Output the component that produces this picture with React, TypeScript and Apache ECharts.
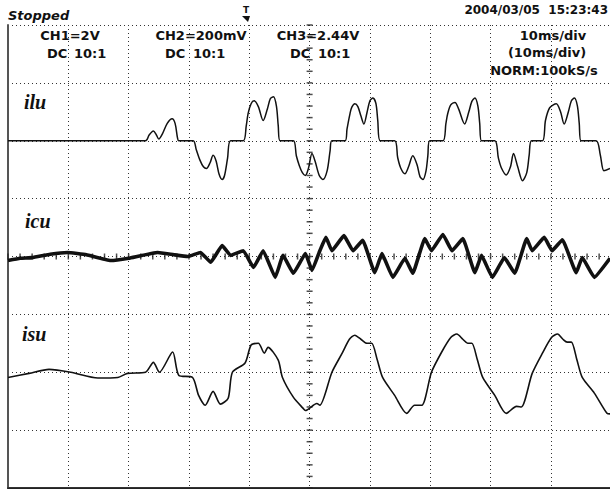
import React, { useEffect, useRef } from "react";
import * as echarts from "echarts";

// time in ms, level in divisions relative to each channel's zero line
const iluData: number[][] = [
  [0, 0], [22.8, 0], [23.4, 0.1], [24.1, 0.17], [24.6, 0.1], [25.0, 0.03], [25.6, 0.12], [26.4, 0.3], [27.2, 0.38], [27.7, 0.3], [28.1, 0.05], [28.3, 0],
  [30.7, 0], [31.2, -0.15], [31.8, -0.33], [32.4, -0.45], [32.9, -0.48], [33.5, -0.38], [34.0, -0.25], [34.5, -0.35], [35.0, -0.58], [35.5, -0.67], [35.9, -0.6], [36.4, -0.3], [36.9, 0],
  [39.0, 0], [39.5, 0.26], [39.8, 0.47], [40.3, 0.64], [40.8, 0.69], [41.5, 0.59], [42.3, 0.35], [43.0, 0.55], [43.5, 0.73], [44.0, 0.76], [44.5, 0.6], [44.8, 0.26], [45.1, 0],
  [47.3, 0], [47.8, -0.26], [48.3, -0.43], [48.8, -0.55], [49.3, -0.6], [49.8, -0.48], [50.4, -0.22], [50.9, -0.35], [51.6, -0.6], [52.2, -0.67], [52.9, -0.52], [53.4, -0.17], [53.7, 0],
  [55.9, 0], [56.2, 0.2], [56.7, 0.47], [57.0, 0.58], [57.5, 0.64], [58.0, 0.59], [58.5, 0.43], [59.0, 0.29], [59.5, 0.48], [60.0, 0.69], [60.5, 0.74], [61.0, 0.64], [61.3, 0.35], [61.7, 0],
  [64.1, 0], [64.6, -0.29], [65.1, -0.47], [65.8, -0.57], [66.4, -0.45], [67.1, -0.26], [67.8, -0.41], [68.3, -0.62], [68.8, -0.67], [69.3, -0.52], [69.6, -0.26], [69.9, 0],
  [72.1, 0], [72.6, 0.3], [72.9, 0.47], [73.4, 0.62], [74.1, 0.66], [74.7, 0.55], [75.7, 0.29], [76.4, 0.5], [76.9, 0.68], [77.4, 0.74], [77.9, 0.6], [78.2, 0.3], [78.5, 0],
  [80.7, 0], [81.3, -0.3], [81.8, -0.47], [82.6, -0.59], [83.3, -0.45], [83.8, -0.22], [84.5, -0.45], [85.3, -0.69], [86.0, -0.55], [86.4, -0.25], [86.8, 0],
  [88.6, 0], [89.1, 0.35], [89.8, 0.57], [90.9, 0.64], [91.6, 0.5], [92.2, 0.29], [92.9, 0.5], [93.4, 0.69], [93.9, 0.74], [94.4, 0.6], [94.7, 0.3], [95.0, 0],
  [97.5, 0], [98.2, -0.25], [98.8, -0.52], [99.8, -0.48],
];

const icuData: number[][] = [
  [0, -0.07], [2, -0.03], [4, -0.02], [7, 0.04], [9.9, 0.07], [13, 0.03], [17, -0.07], [20, -0.03], [24.8, 0.07], [27.5, 0.03], [29.8, 0.0],
  [31.9, 0.07], [33.6, -0.1], [35.5, 0.19], [36.9, 0.02], [39.0, 0.1], [40.7, -0.19], [42.3, 0.1], [44.3, -0.36],
  [45.6, 0.02], [47.3, -0.29], [49.3, 0.05], [50.4, -0.24], [51.7, 0.1], [52.7, 0.33], [53.7, 0.1], [55.7, 0.36],
  [57.2, 0.1], [58.8, 0.28], [60.8, -0.28], [62.0, 0.05], [63.8, -0.36], [65.8, -0.03], [67.1, -0.29], [69.1, 0.31],
  [70.2, 0.1], [72.1, 0.38], [73.6, 0.1], [75.4, 0.31], [77.4, -0.28], [78.5, 0.02], [80.3, -0.36], [82.3, -0.02],
  [84.0, -0.29], [86.0, 0.31], [86.9, 0.1], [88.9, 0.33], [90.2, 0.1], [91.9, 0.29], [94.2, -0.28], [95.2, -0.02],
  [97.2, -0.36], [99.8, -0.03],
];

const isuData: number[][] = [
  [0, -0.09], [3.5, -0.02], [6.8, 0.05], [10.4, 0], [14.9, -0.1], [18.2, -0.09], [19.8, -0.02], [22.8, 0], [24.1, 0.17], [25.1, 0],
  [27.3, 0.35], [28.3, -0.05], [30.6, -0.09], [31.6, -0.4], [32.7, -0.57], [34.0, -0.33], [35.2, -0.55], [36.5, -0.45],
  [37.2, 0], [39.3, 0.16], [40.3, 0.47], [41.5, 0.5], [42.5, 0.33], [43.1, 0.43], [44.8, 0.21], [45.5, -0.09],
  [47.3, -0.43], [48.9, -0.62], [49.3, -0.66], [51.2, -0.54], [51.7, -0.57], [53.7, 0], [55.4, 0.33], [56.6, 0.57], [57.5, 0.64],
  [58.5, 0.57], [59.5, 0.5], [60.3, 0.5], [61.2, 0.22], [62.1, -0.09], [64.1, -0.4], [66.1, -0.71], [67.4, -0.57], [68.6, -0.57], [70.2, 0],
  [71.9, 0.35], [73.4, 0.6], [74.4, 0.66], [75.4, 0.57], [76.2, 0.5], [76.9, 0.5], [77.8, 0.22], [78.7, -0.09], [80.7, -0.4], [82.6, -0.71], [84.3, -0.59],
  [85.1, -0.6], [86.9, -0.02], [88.6, 0.33], [90.1, 0.6], [91.1, 0.66], [92.0, 0.57], [92.7, 0.52], [93.4, 0.52], [94.3, 0.22], [95.2, -0.09], [97.2, -0.36],
  [99.3, -0.71], [99.8, -0.72],
];

const channelNames = ["ilu", "icu", "isu"];
const channelZero = [6, 4, 2];
const chSettings = ["CH1=2V", "CH2=200mV", "CH3=2.44V"];
const timebase = ["10ms/div", "(10ms/div)", "NORM:100kS/s"];
const statusText = "Stopped";
const dateText = "2004/03/05  15:23:43";

export default function App() {
  const ref = useRef<HTMLDivElement>(null);
  useEffect(() => {
    if (!ref.current) return;
    const chart = echarts.init(ref.current, undefined, { renderer: "svg" });
    const shift = (d: number[][], z: number) => d.map(([t, v]) => [t, v + z]);
    const vTicks: number[][] = [];
    for (let k = 0; k <= 40; k++) vTicks.push([50, k * 0.2]);
    const hTicks: number[][] = [];
    for (let k = 0; k < 50; k++) hTicks.push([k * 2, 4]);
    const dotted = { color: "#333", width: 1, type: [1, 3] as any };
    const hdr = 'bold 13px "DejaVu Sans"';
    const labelFont = 'italic bold 20px "Liberation Serif"';
    const txt = (text: string, x: number, y: number, font: string, align = "left") => ({
      type: "text", x, y, silent: true,
      style: { text, font, fill: "#111", textAlign: align, textVerticalAlign: "middle" },
    });
    chart.setOption({
      animation: false,
      backgroundColor: "#fff",
      grid: { left: 8, top: 25, width: 602, height: 463 },
      xAxis: [
        {
          type: "value", min: 0, max: 99.8, interval: 10,
          axisLine: { show: true, onZero: false, lineStyle: { color: "#333", width: 2 } },
          axisTick: { show: false }, axisLabel: { show: false },
          splitLine: { show: true, lineStyle: dotted },
        },
        {
          type: "value", min: 0, max: 99.8, position: "top",
          axisLine: { show: true, lineStyle: { color: "#222", width: 1 } },
          axisTick: { show: false }, axisLabel: { show: false }, splitLine: { show: false },
        },
      ],
      yAxis: {
        type: "value", min: 0, max: 8, interval: 1,
        axisLine: { show: true, onZero: false, lineStyle: { color: "#555", width: 2 } },
        axisTick: { show: false }, axisLabel: { show: false },
        splitLine: { show: true, lineStyle: dotted },
      },
      series: [
        {
          type: "scatter", data: vTicks, symbol: "rect", symbolSize: [6, 1.5],
          itemStyle: { color: "#222" }, silent: true, z: 1,
        },
        {
          type: "scatter", data: hTicks, symbol: "rect", symbolSize: [1.5, 6],
          itemStyle: { color: "#222" }, silent: true, z: 1,
        },
        {
          name: channelNames[0], type: "line", data: shift(iluData, channelZero[0]), showSymbol: false,
          smooth: 0.3, lineStyle: { color: "#111", width: 1.5 }, z: 3,
        },
        {
          name: channelNames[1], type: "line", data: shift(icuData, channelZero[1]), showSymbol: false,
          smooth: 0.1, lineStyle: { color: "#111", width: 3.6 }, z: 3,
        },
        {
          name: channelNames[2], type: "line", data: shift(isuData, channelZero[2]), showSymbol: false,
          smooth: 0.25, lineStyle: { color: "#111", width: 1.6 }, z: 3,
        },
      ],
      graphic: [
        txt(statusText, 8, 15, 'italic bold 13px "DejaVu Sans"'),
        txt(dateText, 608, 10, 'bold 12px "DejaVu Sans"', "right"),
        txt("T", 246, 10, 'bold 9px "DejaVu Sans"', "center"),
        { type: "polygon", silent: true, shape: { points: [[242, 16], [250, 16], [248, 22]] }, style: { fill: "#111" } },
        txt(chSettings[0], 70, 35, hdr, "center"),
        txt("DC", 47, 53, hdr), txt("10:1", 74, 53, hdr),
        txt(chSettings[1], 201, 35, hdr, "center"),
        txt("DC", 165, 53, hdr), txt("10:1", 193, 53, hdr),
        txt(chSettings[2], 318, 35, hdr, "center"),
        txt("DC", 290, 53, hdr), txt("10:1", 318, 53, hdr),
        txt(timebase[0], 553, 35, hdr, "center"),
        txt(timebase[1], 547, 52, hdr, "center"),
        txt(timebase[2], 544, 70, hdr, "center"),
        txt(channelNames[0], 24, 102, labelFont),
        txt(channelNames[1], 25, 221, labelFont),
        txt(channelNames[2], 22, 334, labelFont),
      ],
    });
    return () => chart.dispose();
  }, []);
  return (
    <div
      ref={ref}
      style={{ position: "absolute", left: 0, top: 0, width: 610, height: 489, background: "#fff" }}
    />
  );
}
